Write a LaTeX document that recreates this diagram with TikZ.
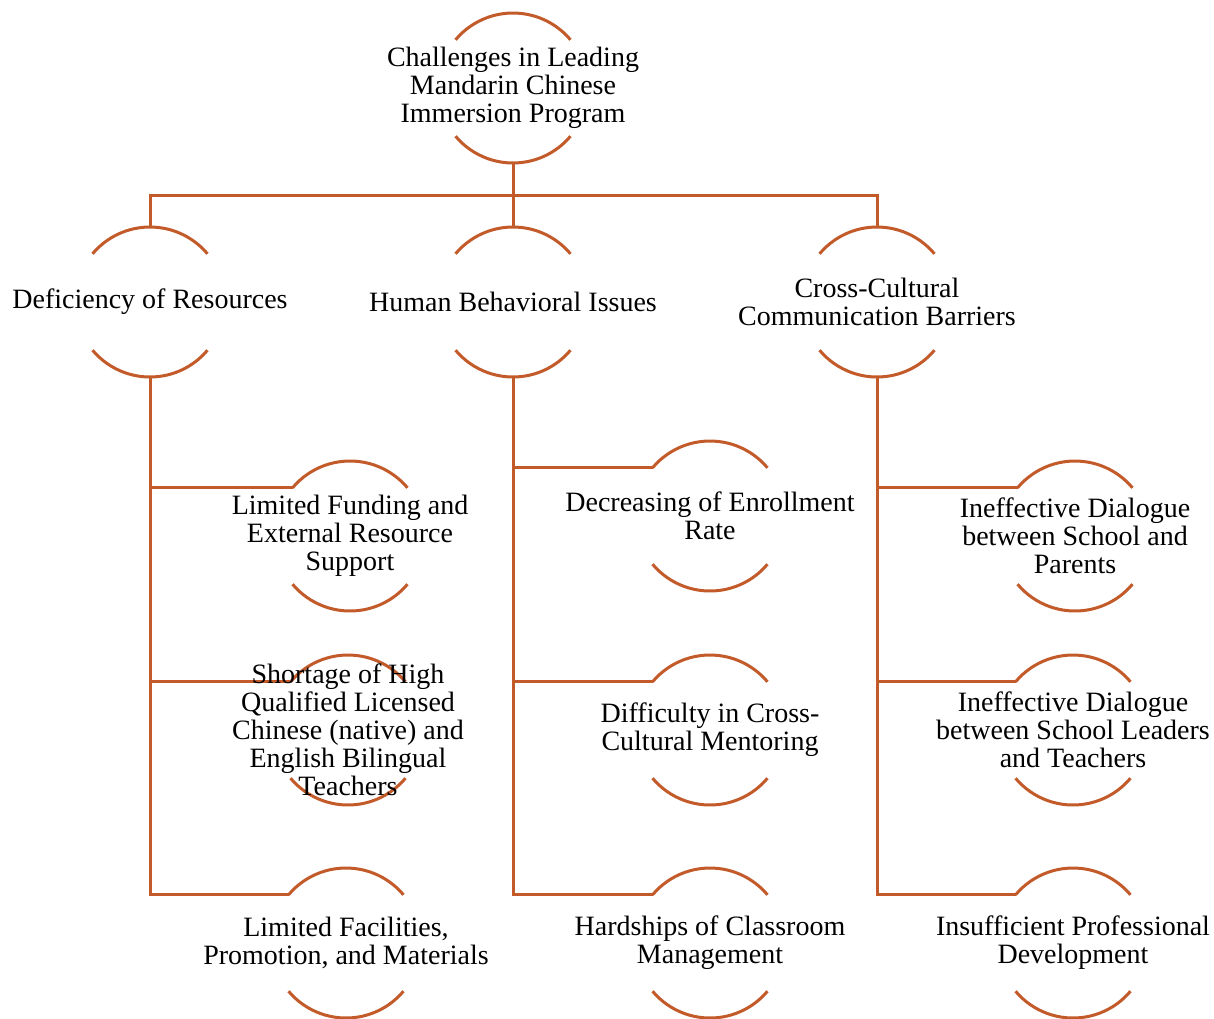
\documentclass[tikz,border=0pt]{standalone}
\usepackage{fontspec}
\setmainfont{Liberation Serif}
\usetikzlibrary{calc,backgrounds}
\definecolor{branch}{HTML}{C25A2A}
\newcommand{\ringrad}{37.5pt}

\begin{document}
\begin{tikzpicture}[x=0.5pt, y=0.5pt,
  txt/.style={align=center, inner sep=0pt, font=\fontsize{14}{14}\selectfont},
  wire/.style={draw=branch, line width=1.5pt}]
  \useasboundingbox (0,0) rectangle (1214,-1018);
  \node[txt] (root) at (513,-88) {Challenges in Leading\\Mandarin Chinese\\Immersion Program};
  \node[txt] (res) at (150,-302) {Deficiency of Resources};
  \node[txt] (hum) at (513,-302) {Human Behavioral Issues};
  \node[txt] (ccb) at (877,-302) {Cross-Cultural\\Communication Barriers};
  \node[txt] (fund) at (350,-536) {Limited Funding and\\External Resource\\Support};
  \node[txt] (short) at (348,-730) {Shortage of High\\Qualified Licensed\\Chinese (native) and\\English Bilingual\\Teachers};
  \node[txt] (facil) at (346,-943) {Limited Facilities,\\Promotion, and Materials};
  \node[txt] (enrol) at (710,-516) {Decreasing of Enrollment\\Rate};
  \node[txt] (mentor) at (710,-730) {Difficulty in Cross-\\Cultural Mentoring};
  \node[txt] (manage) at (710,-943) {Hardships of Classroom\\Management};
  \node[txt] (parents) at (1075,-536) {Ineffective Dialogue\\between School and\\Parents};
  \node[txt] (teachers) at (1073,-730) {Ineffective Dialogue\\between School Leaders\\and Teachers};
  \node[txt] (devel) at (1073,-943) {Insufficient Professional\\Development};
  \begin{scope}[on background layer]
    % two arcs round every node
    \foreach \n in {root,res,hum,ccb,fund,short,facil,enrol,mentor,manage,parents,teachers,devel}{
      \coordinate (\n-top) at ($(\n.center)+(0,\ringrad)$);
      \coordinate (\n-bot) at ($(\n.center)+(0,-\ringrad)$);
      \coordinate (\n-in) at ($(\n.center)+(140:\ringrad)$);
      \draw[wire] (\n-in) arc[start angle=140, end angle=40, radius=\ringrad];
      \draw[wire] ($(\n.center)+(220:\ringrad)$) arc[start angle=220, end angle=320, radius=\ringrad];
    }
    \draw[wire] (root-bot) -- ++(0,-32) coordinate (bus);
    \draw[wire] (res-top) |- (bus) -| (ccb-top);
    \draw[wire] (bus) -- (hum-top);
    \foreach \n in {fund,short,facil} \draw[wire] (res-bot) |- (\n-in);
    \foreach \n in {enrol,mentor,manage} \draw[wire] (hum-bot) |- (\n-in);
    \foreach \n in {parents,teachers,devel} \draw[wire] (ccb-bot) |- (\n-in);
  \end{scope}
\end{tikzpicture}
\end{document}
